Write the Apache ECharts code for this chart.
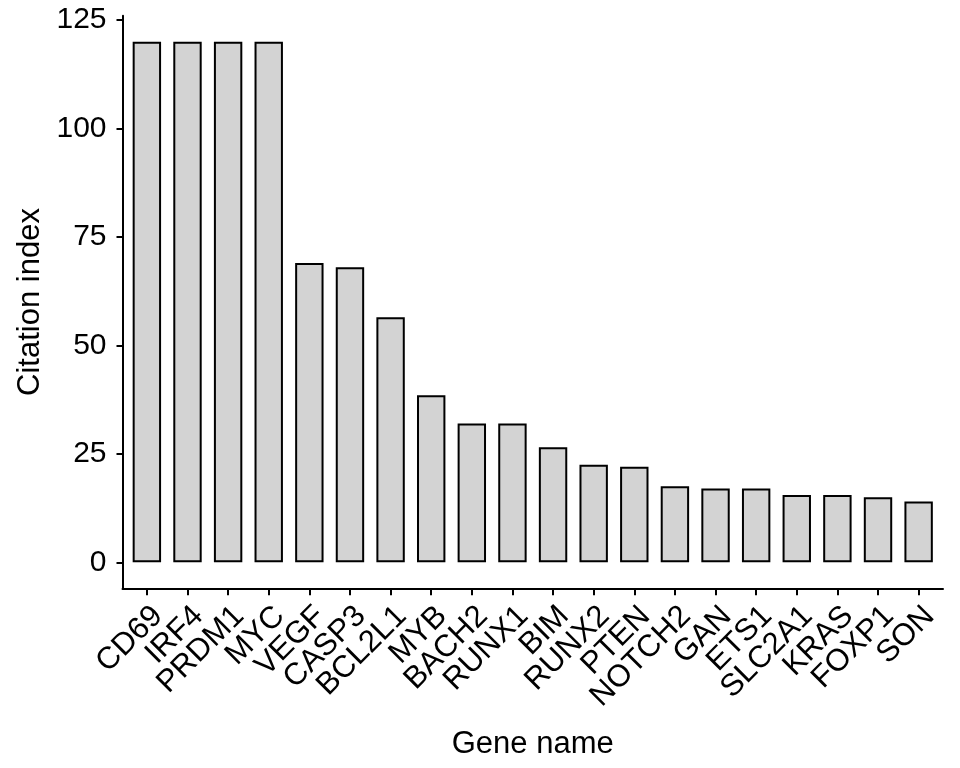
<!DOCTYPE html>
<html>
<head>
<meta charset="utf-8">
<script src="https://cdn.jsdelivr.net/npm/echarts@6/dist/echarts.min.js"></script>
<style>html,body{margin:0;padding:0;background:#fff}#c{width:960px;height:768px}</style>
</head>
<body>
<div id="c"></div>
<script>
var categories = ["CD69","IRF4","PRDM1","MYC","VEGF","CASP3","BCL2L1","MYB","BACH2","RUNX1","BIM","RUNX2","PTEN","NOTCH2","GAN","ETS1","SLC2A1","KRAS","FOXP1","SON"];
var values = [120,120,120,120,69,68,56.5,38.5,32,32,26.5,22.5,22,17.5,17,17,15.5,15.5,15,14];
var yTicks = [0,25,50,75,100,125];
var xTitle = "Gene name";
var yTitle = "Citation index";

var positions = categories.map(function(c,i){return i;});
var xMin = -0.6, xMax = categories.length - 0.4;
// padded label list: dummy empty labels at the axis ends so that ECharts' min/max label handling
// does not hide CD69/IRF4 or FOXP1/SON
var labelPositions = [xMin].concat(positions, [xMax]);
var font = '"Liberation Sans", Arial, sans-serif';
var chart = echarts.init(document.getElementById('c'), null, {renderer:'canvas'});
chart.setOption({
  animation:false,
  backgroundColor:'#fff',
  grid:{left:122.5, right:17, top:15.7, bottom:179.7, containLabel:false, outerBoundsMode:'none'},
  xAxis:{
    type:'value', min:xMin, max:xMax,
    name:xTitle, nameLocation:'middle', nameGap:141,
    nameTextStyle:{fontSize:31, color:'#000', fontFamily:font},
    axisLine:{show:true, onZero:false, lineStyle:{color:'#000', width:2}},
    axisTick:{show:true, customValues:positions, length:7, lineStyle:{color:'#000', width:2}},
    axisLabel:{show:true, customValues:labelPositions, rotate:45, margin:12, fontSize:31, color:'#000', fontFamily:font,
      align:'right', verticalAlign:'top', hideOverlap:false, showMinLabel:false, showMaxLabel:false,
      formatter:function(v){
        var i = Math.round(v);
        return (Math.abs(v - i) < 1e-6 && i >= 0 && i < categories.length) ? categories[i] : '';
      }},
    splitLine:{show:false}
  },
  yAxis:{
    type:'value', min:-6, max:126,
    name:yTitle, nameLocation:'middle', nameGap:75,
    nameTextStyle:{fontSize:31, color:'#000', fontFamily:font},
    axisLine:{show:true, onZero:false, lineStyle:{color:'#000', width:2}},
    axisTick:{show:true, customValues:yTicks, length:6, lineStyle:{color:'#000', width:2}},
    axisLabel:{show:true, customValues:yTicks, margin:16, fontSize:30, color:'#000', fontFamily:font,
      showMinLabel:true, showMaxLabel:true},
    splitLine:{show:false}
  },
  series:[{
    type:'bar',
    data:values.map(function(v,i){return [i,v];}),
    barWidth:28.4,
    itemStyle:{color:'#D3D3D3', borderColor:'#000', borderWidth:2}
  }]
});
</script>
</body>
</html>
